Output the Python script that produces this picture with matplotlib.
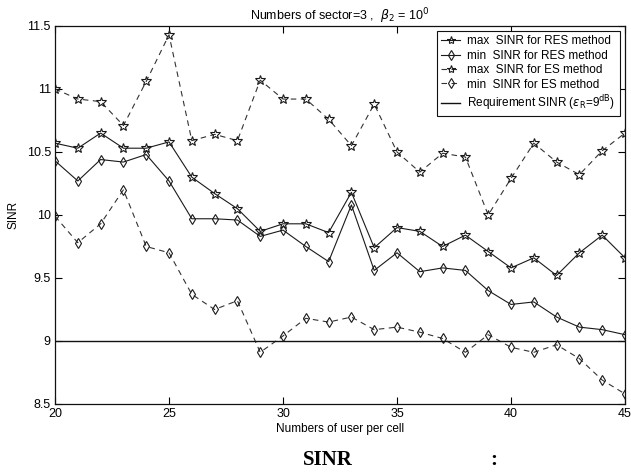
import numpy as np
import matplotlib
matplotlib.use('Agg')
import matplotlib.pyplot as plt

users = list(range(20, 46))

max_res = [10.57, 10.53, 10.65, 10.53, 10.53, 10.58, 10.30, 10.17, 10.05, 9.87,
           9.93, 9.93, 9.86, 10.18, 9.74, 9.90, 9.87, 9.75, 9.84, 9.71,
           9.58, 9.66, 9.52, 9.70, 9.84, 9.66]
min_res = [10.43, 10.27, 10.44, 10.42, 10.48, 10.27, 9.97, 9.97, 9.96, 9.83,
           9.88, 9.75, 9.63, 10.08, 9.56, 9.70, 9.55, 9.58, 9.56, 9.40,
           9.29, 9.31, 9.19, 9.11, 9.09, 9.05]
max_es = [11.00, 10.92, 10.90, 10.71, 11.06, 11.43, 10.59, 10.64, 10.59, 11.07,
          10.92, 10.92, 10.76, 10.55, 10.88, 10.50, 10.34, 10.49, 10.46, 10.00,
          10.29, 10.57, 10.42, 10.32, 10.51, 10.65]
min_es = [9.99, 9.78, 9.93, 10.20, 9.75, 9.70, 9.37, 9.25, 9.32, 8.91,
          9.04, 9.18, 9.15, 9.19, 9.09, 9.11, 9.07, 9.02, 8.91, 9.05,
          8.95, 8.91, 8.97, 8.86, 8.69, 8.58]
requirement = 9

plt.rcParams['font.family'] = ['Liberation Sans', 'DejaVu Sans']
plt.rcParams['mathtext.fontset'] = 'dejavusans'

fig = plt.figure(figsize=(6.31, 4.75), dpi=100)
ax = fig.add_axes([0.0872, 0.1495, 0.9033, 0.7958])

star_ms = 7
dia_ms = 5.5
ax.plot(users, max_res, '-', color='#1a1a1a', lw=0.8, marker='*', ms=star_ms,
        mfc='none', mec='#1a1a1a', mew=0.8, label='max  SINR for RES method')
ax.plot(users, min_res, '-', color='#1a1a1a', lw=0.8, marker='d', ms=dia_ms,
        mfc='none', mec='#1a1a1a', mew=0.8, label='min  SINR for RES method')
ax.plot(users, max_es, '--', color='#333333', lw=0.8, marker='*', ms=star_ms,
        mfc='none', mec='#1a1a1a', mew=0.8, dashes=(5, 4),
        label='max  SINR for ES method')
ax.plot(users, min_es, '--', color='#333333', lw=0.8, marker='d', ms=dia_ms,
        mfc='none', mec='#1a1a1a', mew=0.8, dashes=(5, 4),
        label='min  SINR for ES method')
ax.axhline(requirement, color='#111111', lw=1.0,
           label=r'Requirement SINR ($\epsilon_{\rm R}$=9$^{\rm dB}$)')

ax.set_xlim(20, 45)
ax.set_ylim(8.5, 11.5)
ax.set_xticks([20, 25, 30, 35, 40, 45])
ax.set_yticks([8.5, 9, 9.5, 10, 10.5, 11, 11.5])
ax.set_yticklabels(['8.5', '9', '9.5', '10', '10.5', '11', '11.5'])
ax.tick_params(direction='in', top=True, right=True, labelsize=9,
               length=5, width=0.8)
ax.tick_params(axis='x', pad=3)
ax.tick_params(axis='y', pad=3)
for s in ax.spines.values():
    s.set_linewidth(0.9)
    s.set_color('#111111')

ax.set_title(r'Numbers of sector=3 ,  $\beta_2$ = 10$^0$', fontsize=9, pad=4)
ax.set_xlabel('Numbers of user per cell', fontsize=8.5, labelpad=2)
ax.set_ylabel('SINR', fontsize=8.5, labelpad=5)

leg = ax.legend(loc='upper right', fontsize=8.5, frameon=True, fancybox=False,
                edgecolor='#111111', framealpha=1, borderpad=0.35,
                labelspacing=0.2, handlelength=1.6, handletextpad=0.6,
                borderaxespad=0.45, markerscale=0.85)
leg.get_frame().set_linewidth(0.8)

fig.text(0.52, 0.032, 'SINR', fontsize=15, fontweight='bold',
         family='Liberation Serif', ha='center', va='center')
fig.text(0.782, 0.032, ':', fontsize=15, fontweight='bold',
         family='Liberation Serif', ha='center', va='center')

fig.savefig('out.png', dpi=100)
